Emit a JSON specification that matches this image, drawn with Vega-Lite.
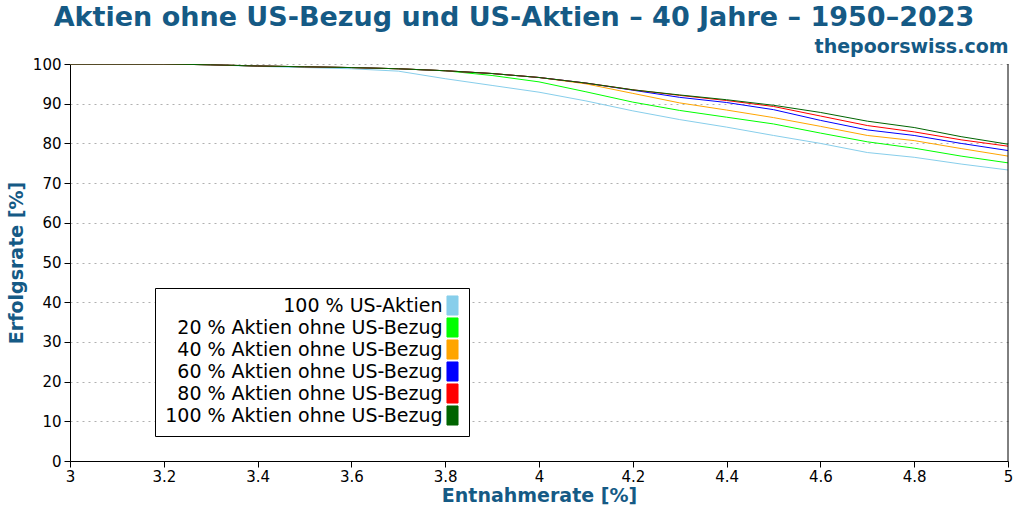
{
  "$schema": "https://vega.github.io/schema/vega-lite/v6.json",
  "width": 938,
  "height": 397,
  "autosize": {"type": "none"},
  "padding": {"left": 70, "top": 64, "right": 16, "bottom": 51},
  "background": "white",
  "title": {
    "text": "Aktien ohne US-Bezug und US-Aktien – 40 Jahre – 1950–2023",
    "anchor": "middle",
    "dx": -25,
    "fontSize": 27,
    "font": "DejaVu Sans",
    "fontWeight": "bold",
    "color": "#155a85",
    "offset": 5
  },
  "config": {
    "view": {"stroke": null},
    "font": "DejaVu Sans",
    "legend": {
      "orient": "none",
      "legendX": 85,
      "legendY": 224
    }
  },
  "data": {
    "values": [
      {"r": 3.0, "100 % US-Aktien": 100, "20 % Aktien ohne US-Bezug": 100, "40 % Aktien ohne US-Bezug": 100, "60 % Aktien ohne US-Bezug": 100, "80 % Aktien ohne US-Bezug": 100, "100 % Aktien ohne US-Bezug": 100},
      {"r": 3.1, "100 % US-Aktien": 100, "20 % Aktien ohne US-Bezug": 100, "40 % Aktien ohne US-Bezug": 100, "60 % Aktien ohne US-Bezug": 100, "80 % Aktien ohne US-Bezug": 100, "100 % Aktien ohne US-Bezug": 100},
      {"r": 3.2, "100 % US-Aktien": 100, "20 % Aktien ohne US-Bezug": 100, "40 % Aktien ohne US-Bezug": 100, "60 % Aktien ohne US-Bezug": 100, "80 % Aktien ohne US-Bezug": 100, "100 % Aktien ohne US-Bezug": 100},
      {"r": 3.3, "100 % US-Aktien": 99.8, "20 % Aktien ohne US-Bezug": 99.8, "40 % Aktien ohne US-Bezug": 99.8, "60 % Aktien ohne US-Bezug": 99.8, "80 % Aktien ohne US-Bezug": 99.8, "100 % Aktien ohne US-Bezug": 99.8},
      {"r": 3.4, "100 % US-Aktien": 99.4, "20 % Aktien ohne US-Bezug": 99.5, "40 % Aktien ohne US-Bezug": 99.5, "60 % Aktien ohne US-Bezug": 99.5, "80 % Aktien ohne US-Bezug": 99.5, "100 % Aktien ohne US-Bezug": 99.5},
      {"r": 3.5, "100 % US-Aktien": 99.1, "20 % Aktien ohne US-Bezug": 99.3, "40 % Aktien ohne US-Bezug": 99.3, "60 % Aktien ohne US-Bezug": 99.3, "80 % Aktien ohne US-Bezug": 99.3, "100 % Aktien ohne US-Bezug": 99.3},
      {"r": 3.6, "100 % US-Aktien": 98.8, "20 % Aktien ohne US-Bezug": 99.1, "40 % Aktien ohne US-Bezug": 99.1, "60 % Aktien ohne US-Bezug": 99.1, "80 % Aktien ohne US-Bezug": 99.1, "100 % Aktien ohne US-Bezug": 99.1},
      {"r": 3.7, "100 % US-Aktien": 98.2, "20 % Aktien ohne US-Bezug": 98.8, "40 % Aktien ohne US-Bezug": 98.8, "60 % Aktien ohne US-Bezug": 98.8, "80 % Aktien ohne US-Bezug": 98.8, "100 % Aktien ohne US-Bezug": 98.8},
      {"r": 3.8, "100 % US-Aktien": 96.3, "20 % Aktien ohne US-Bezug": 98.3, "40 % Aktien ohne US-Bezug": 98.3, "60 % Aktien ohne US-Bezug": 98.3, "80 % Aktien ohne US-Bezug": 98.3, "100 % Aktien ohne US-Bezug": 98.3},
      {"r": 3.9, "100 % US-Aktien": 94.6, "20 % Aktien ohne US-Bezug": 97.1, "40 % Aktien ohne US-Bezug": 97.6, "60 % Aktien ohne US-Bezug": 97.6, "80 % Aktien ohne US-Bezug": 97.6, "100 % Aktien ohne US-Bezug": 97.6},
      {"r": 4.0, "100 % US-Aktien": 92.9, "20 % Aktien ohne US-Bezug": 95.5, "40 % Aktien ohne US-Bezug": 96.6, "60 % Aktien ohne US-Bezug": 96.6, "80 % Aktien ohne US-Bezug": 96.6, "100 % Aktien ohne US-Bezug": 96.6},
      {"r": 4.1, "100 % US-Aktien": 90.7, "20 % Aktien ohne US-Bezug": 93.0, "40 % Aktien ohne US-Bezug": 95.0, "60 % Aktien ohne US-Bezug": 95.2, "80 % Aktien ohne US-Bezug": 95.2, "100 % Aktien ohne US-Bezug": 95.2},
      {"r": 4.2, "100 % US-Aktien": 88.2, "20 % Aktien ohne US-Bezug": 90.4, "40 % Aktien ohne US-Bezug": 92.6, "60 % Aktien ohne US-Bezug": 93.4, "80 % Aktien ohne US-Bezug": 93.5, "100 % Aktien ohne US-Bezug": 93.5},
      {"r": 4.3, "100 % US-Aktien": 86.0, "20 % Aktien ohne US-Bezug": 88.3, "40 % Aktien ohne US-Bezug": 90.2, "60 % Aktien ohne US-Bezug": 91.6, "80 % Aktien ohne US-Bezug": 92.1, "100 % Aktien ohne US-Bezug": 92.2},
      {"r": 4.4, "100 % US-Aktien": 84.1, "20 % Aktien ohne US-Bezug": 86.6, "40 % Aktien ohne US-Bezug": 88.4, "60 % Aktien ohne US-Bezug": 90.3, "80 % Aktien ohne US-Bezug": 90.8, "100 % Aktien ohne US-Bezug": 91.0},
      {"r": 4.5, "100 % US-Aktien": 82.0, "20 % Aktien ohne US-Bezug": 84.9, "40 % Aktien ohne US-Bezug": 86.5, "60 % Aktien ohne US-Bezug": 88.5, "80 % Aktien ohne US-Bezug": 89.3, "100 % Aktien ohne US-Bezug": 89.6},
      {"r": 4.6, "100 % US-Aktien": 80.0, "20 % Aktien ohne US-Bezug": 82.6, "40 % Aktien ohne US-Bezug": 84.3, "60 % Aktien ohne US-Bezug": 85.8, "80 % Aktien ohne US-Bezug": 86.9, "100 % Aktien ohne US-Bezug": 87.8},
      {"r": 4.7, "100 % US-Aktien": 77.7, "20 % Aktien ohne US-Bezug": 80.4, "40 % Aktien ohne US-Bezug": 82.0, "60 % Aktien ohne US-Bezug": 83.4, "80 % Aktien ohne US-Bezug": 84.5, "100 % Aktien ohne US-Bezug": 85.6},
      {"r": 4.8, "100 % US-Aktien": 76.5, "20 % Aktien ohne US-Bezug": 78.8, "40 % Aktien ohne US-Bezug": 80.7, "60 % Aktien ohne US-Bezug": 82.0, "80 % Aktien ohne US-Bezug": 82.9, "100 % Aktien ohne US-Bezug": 84.0},
      {"r": 4.9, "100 % US-Aktien": 74.8, "20 % Aktien ohne US-Bezug": 76.8, "40 % Aktien ohne US-Bezug": 78.7, "60 % Aktien ohne US-Bezug": 80.0, "80 % Aktien ohne US-Bezug": 80.9, "100 % Aktien ohne US-Bezug": 81.7},
      {"r": 5.0, "100 % US-Aktien": 73.3, "20 % Aktien ohne US-Bezug": 75.1, "40 % Aktien ohne US-Bezug": 76.8, "60 % Aktien ohne US-Bezug": 78.2, "80 % Aktien ohne US-Bezug": 79.3, "100 % Aktien ohne US-Bezug": 79.8}
    ]
  },
  "layer": [
    {
      "transform": [
        {"fold": ["100 % US-Aktien", "20 % Aktien ohne US-Bezug", "40 % Aktien ohne US-Bezug", "60 % Aktien ohne US-Bezug", "80 % Aktien ohne US-Bezug", "100 % Aktien ohne US-Bezug"], "as": ["s", "v"]}
      ],
      "mark": {"type": "line", "strokeWidth": 1, "clip": true},
      "encoding": {
        "x": {
          "field": "r",
          "type": "quantitative",
          "scale": {"domain": [3, 5], "nice": false},
          "axis": {
            "values": [3, 3.2, 3.4, 3.6, 3.8, 4, 4.2, 4.4, 4.6, 4.8, 5],
            "format": "~g",
            "grid": false,
            "labelFlush": false,
            "domainColor": "black",
            "tickColor": "black",
            "tickSize": 6,
            "labelFontSize": 15,
            "labelColor": "black",
            "labelPadding": 2,
            "title": "Entnahmerate [%]",
            "titleFontSize": 19,
            "titleFontWeight": "bold",
            "titleColor": "#155a85",
            "titlePadding": 2
          }
        },
        "y": {
          "field": "v",
          "type": "quantitative",
          "scale": {"domain": [0, 100], "nice": false},
          "axis": {
            "values": [0, 10, 20, 30, 40, 50, 60, 70, 80, 90, 100],
            "format": "d",
            "grid": true,
            "labelFlush": false,
            "gridDash": [2, 4],
            "gridColor": "#b0b0b0",
            "gridWidth": 1,
            "domainColor": "black",
            "tickColor": "black",
            "tickSize": 6,
            "labelFontSize": 15,
            "labelColor": "black",
            "labelPadding": 3,
            "title": "Erfolgsrate [%]",
            "titleFontSize": 19,
            "titleFontWeight": "bold",
            "titleColor": "#155a85",
            "titlePadding": 6
          }
        },
        "color": {
          "field": "s",
          "type": "nominal",
          "sort": null,
          "scale": {
            "domain": ["100 % US-Aktien", "20 % Aktien ohne US-Bezug", "40 % Aktien ohne US-Bezug", "60 % Aktien ohne US-Bezug", "80 % Aktien ohne US-Bezug", "100 % Aktien ohne US-Bezug"],
            "range": ["#87ceeb", "#00ff00", "#ffa500", "#0000ff", "#ff0000", "#006400"]
          },
          "legend": {
            "title": null,
            "labelFontSize": 19,
            "labelColor": "black",
            "labelAlign": "right",
            "symbolOffset": 280,
            "labelOffset": -19.5,
            "labelLimit": 400,
            "symbolType": "M-0.69,-1.19L0.69,-1.19L0.69,1.19L-0.69,1.19Z",
            "symbolSize": 256,
            "rowPadding": -6,
            "padding": 8,
            "strokeColor": "black",
            "fillColor": "white",
            "cornerRadius": 0,
            "encode": {
              "symbols": {
                "update": {
                  "fill": {"scale": "color", "field": "value"},
                  "stroke": {"value": "black"},
                  "strokeWidth": {"value": 1},
                  "opacity": {"value": 1}
                }
              }
            }
          }
        }
      }
    },
    {
      "data": {"values": [{}]},
      "mark": {"type": "rule", "color": "black", "strokeWidth": 1},
      "encoding": {
        "x": {
          "datum": 5,
          "type": "quantitative",
          "axis": {
            "orient": "top",
            "labels": false,
            "ticks": false,
            "domain": false,
            "grid": false,
            "title": "thepoorswiss.com",
            "titleAnchor": "end",
            "titleFontSize": 19,
            "titleFontWeight": "bold",
            "titleColor": "#155a85",
            "titlePadding": 8
          }
        }
      }
    }
  ],
  "resolve": {"axis": {"x": "independent"}}
}
